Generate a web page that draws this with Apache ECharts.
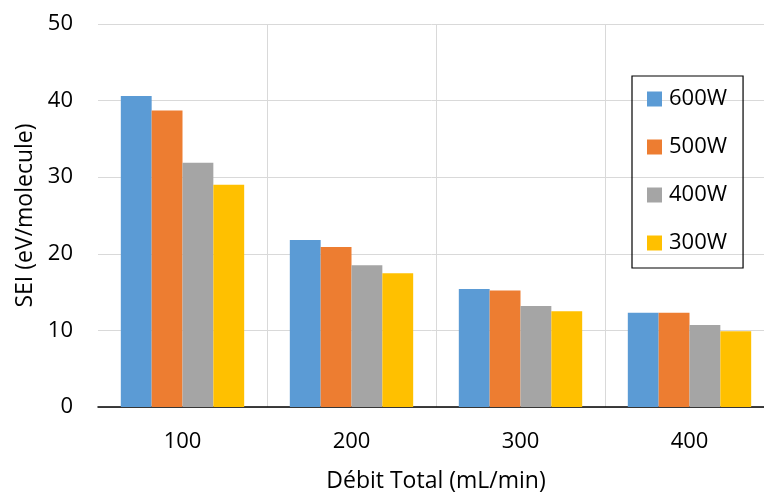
<!DOCTYPE html>
<html>
<head>
<meta charset="utf-8">
<script src="https://cdn.jsdelivr.net/npm/echarts@6/dist/echarts.min.js"></script>
<style>html,body{margin:0;padding:0;background:#fff}#c{width:764px;height:493px}</style>
</head>
<body>
<div id="c"></div>
<script>
const categories = ['100', '200', '300', '400'];
const s600 = [40.6, 21.8, 15.4, 12.3];
const s500 = [38.7, 20.9, 15.2, 12.3];
const s400 = [31.9, 18.5, 13.2, 10.7];
const s300 = [29.0, 17.45, 12.5, 9.9];
const seriesNames = ['600W', '500W', '400W', '300W'];
const colors = ['#5B9BD5', '#ED7D31', '#A5A5A5', '#FFC000'];
const font = 'Open Sans';

const chart = echarts.init(document.getElementById('c'));
chart.setOption({
  animation: false,
  color: colors,
  grid: { left: 98, top: 24, width: 676, height: 383, containLabel: false, outerBoundsMode: 'none' },
  legend: {
    orient: 'vertical',
    left: 632, top: 76,
    padding: [11, 16, 13, 15],
    itemGap: 24,
    itemWidth: 15, itemHeight: 15,
    icon: 'rect',
    borderColor: '#000', borderWidth: 1.2,
    textStyle: { fontFamily: font, fontSize: 22, color: '#000', lineHeight: 24, padding: [0, 0, 0, 2] },
    data: seriesNames
  },
  xAxis: {
    type: 'category',
    data: categories,
    name: 'Débit Total (mL/min)',
    nameLocation: 'middle',
    nameGap: 63,
    nameTextStyle: { fontFamily: font, fontSize: 23, color: '#000' },
    axisLine: { show: true, lineStyle: { color: '#000', width: 1.5 } },
    axisTick: { show: false },
    axisLabel: { fontFamily: font, fontSize: 22, color: '#000', margin: 24 },
    splitLine: { show: true, showMinLine: false, lineStyle: { color: '#D9D9D9', width: 1 } }
  },
  yAxis: {
    type: 'value',
    min: 0, max: 50, interval: 10,
    name: 'SEI (eV/molecule)',
    nameLocation: 'middle',
    nameGap: 58,
    nameRotate: 90,
    nameTextStyle: { fontFamily: font, fontSize: 23, color: '#000' },
    axisLine: { show: false },
    axisTick: { show: false },
    axisLabel: { fontFamily: font, fontSize: 22, color: '#000', margin: 25 },
    splitLine: { show: true, lineStyle: { color: '#D9D9D9', width: 1 } }
  },
  series: [s600, s500, s400, s300].map((d, i) => ({
    name: seriesNames[i],
    type: 'bar',
    data: d,
    barGap: '0%',
    barCategoryGap: '27%',
    itemStyle: { color: colors[i] }
  }))
});
</script>
</body>
</html>
